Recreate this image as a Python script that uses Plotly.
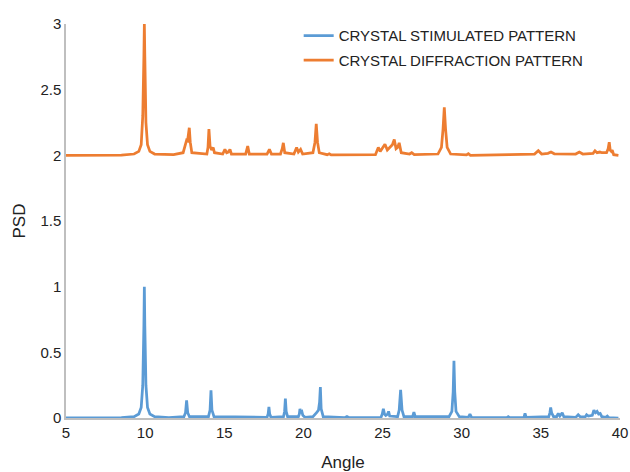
import plotly.graph_objects as go

# Blue series: CRYSTAL STIMULATED PATTERN (angle, PSD)
stim_angle = [5.0, 8.5, 9.3, 9.6, 9.75, 9.85, 9.92, 9.95, 9.98, 10.05, 10.15, 10.3, 10.6, 11.5,
              12.45, 12.55, 12.62, 12.69, 12.8, 14.0, 14.1, 14.16, 14.22, 14.35,
              17.7, 17.77, 17.82, 17.87, 17.95, 18.74, 18.81, 18.86, 18.91, 19.0,
              19.68, 19.74, 19.78, 19.83, 19.9, 19.96, 20.1, 20.6, 20.83, 20.95, 21.02, 21.07, 21.12, 21.25,
              22.6, 22.75, 22.9, 24.9, 24.98, 25.05, 25.12, 25.2, 25.32, 25.38, 25.45,
              25.95, 26.05, 26.14, 26.23, 26.35, 26.9, 26.98, 27.06,
              29.2, 29.38, 29.46, 29.51, 29.56, 29.64, 29.85, 30.42, 30.52, 30.62,
              32.85, 32.94, 33.03, 33.93, 34.0, 34.07, 35.5, 35.57, 35.62, 35.68, 35.8,
              36.0, 36.1, 36.2, 36.35, 36.45, 37.2, 37.36, 37.5, 37.8, 37.89, 38.0,
              38.25, 38.35, 38.45, 38.55, 38.65, 38.75, 38.85, 39.1, 39.2, 39.3, 39.9]
stim_psd = [0.0, 0.002, 0.01, 0.03, 0.08, 0.25, 0.7, 1.0, 0.7, 0.25, 0.08, 0.03, 0.01, 0.003,
            0.01, 0.04, 0.135, 0.04, 0.01, 0.01, 0.06, 0.21, 0.06, 0.01,
            0.005, 0.03, 0.085, 0.03, 0.005, 0.01, 0.05, 0.148, 0.05, 0.01,
            0.01, 0.03, 0.07, 0.045, 0.05, 0.02, 0.005, 0.01, 0.04, 0.06, 0.12, 0.235, 0.07, 0.01,
            0.003, 0.012, 0.003, 0.005, 0.03, 0.07, 0.03, 0.02, 0.03, 0.05, 0.015,
            0.01, 0.06, 0.215, 0.06, 0.01, 0.01, 0.045, 0.01,
            0.01, 0.05, 0.2, 0.435, 0.2, 0.05, 0.01, 0.005, 0.03, 0.005,
            0.003, 0.01, 0.003, 0.005, 0.035, 0.005, 0.01, 0.04, 0.08, 0.04, 0.01,
            0.01, 0.035, 0.015, 0.04, 0.01, 0.005, 0.025, 0.008, 0.008, 0.025, 0.015,
            0.02, 0.06, 0.04, 0.05, 0.03, 0.035, 0.01, 0.005, 0.015, 0.003, 0.0]

# Orange series: CRYSTAL DIFFRACTION PATTERN (angle, PSD)
diff_angle = [5.0, 8.5, 9.3, 9.6, 9.75, 9.85, 9.92, 9.95, 9.98, 10.05, 10.15, 10.3, 10.6, 11.8,
              12.4, 12.55, 12.62, 12.68, 12.74, 12.79, 12.85, 12.95,
              13.9, 13.97, 14.03, 14.1, 14.2, 14.3, 14.38, 14.9, 15.04, 15.15, 15.25, 15.36, 15.45,
              16.35, 16.48, 16.58, 17.7, 17.85, 17.98, 18.55, 18.66, 18.73, 18.82,
              19.4, 19.57, 19.68, 19.82, 19.95, 20.6, 20.73, 20.81, 20.89, 21.0,
              21.5, 21.63, 21.75, 24.55, 24.73, 24.85, 25.15, 25.3, 25.45, 25.62, 25.74, 25.85, 25.95,
              26.05, 26.18, 26.7, 26.84, 27.0, 28.5, 28.72, 28.82, 28.9, 28.98, 29.08, 29.3,
              30.3, 30.42, 30.55, 33.0, 34.0, 34.6, 34.84, 35.05, 35.45, 35.64, 35.85,
              37.2, 37.43, 37.65, 38.3, 38.42, 38.55, 38.73, 38.85, 39.15, 39.25, 39.32, 39.38,
              39.45, 39.51, 39.6, 39.9]
diff_psd = [2.0, 2.002, 2.01, 2.03, 2.08, 2.3, 2.75, 3.0, 2.75, 2.25, 2.08, 2.03, 2.01, 2.005,
            2.02, 2.08, 2.115, 2.11, 2.17, 2.21, 2.1, 2.02,
            2.01, 2.06, 2.2, 2.07, 2.04, 2.06, 2.02, 2.01, 2.045, 2.02, 2.025, 2.045, 2.01,
            2.01, 2.07, 2.01, 2.01, 2.045, 2.01, 2.01, 2.05, 2.095, 2.02,
            2.01, 2.06, 2.025, 2.045, 2.01, 2.02, 2.1, 2.24, 2.1, 2.02,
            2.005, 2.012, 2.003, 2.005, 2.06, 2.03, 2.085, 2.04, 2.06, 2.08, 2.12, 2.05, 2.06,
            2.095, 2.02, 2.01, 2.02, 2.005, 2.01, 2.06, 2.2, 2.365, 2.2, 2.06, 2.01,
            2.003, 2.012, 2.0, 2.005, 2.01, 2.01, 2.035, 2.01, 2.015, 2.025, 2.012,
            2.01, 2.025, 2.01, 2.015, 2.035, 2.02, 2.025, 2.02, 2.02, 2.05, 2.1, 2.04,
            2.03, 2.04, 2.005, 2.0]

x_ticks = [5, 10, 15, 20, 25, 30, 35, 40]
y_ticks = [0, 0.5, 1, 1.5, 2, 2.5, 3]
y_tick_labels = ["0", "0.5", "1", "1.5", "2", "2.5", "3"]

FONT = "Liberation Sans"

fig = go.Figure()
fig.add_trace(go.Scatter(x=stim_angle, y=stim_psd, mode="lines",
                         name="CRYSTAL STIMULATED PATTERN", legendgroup="a",
                         line=dict(color="#5B9BD5", width=2.75)))
fig.add_trace(go.Scatter(x=diff_angle, y=diff_psd, mode="lines",
                         name="CRYSTAL DIFFRACTION PATTERN", legendgroup="b",
                         line=dict(color="#ED7D31", width=2.75)))

fig.update_layout(
    width=630, height=472,
    margin=dict(l=66, r=10, t=24, b=54),
    paper_bgcolor="white", plot_bgcolor="white",
    font=dict(family=FONT, size=14, color="#222"),
    legend=dict(x=0.42, y=1.012, xanchor="left", yanchor="top",
                bgcolor="rgba(0,0,0,0)", font=dict(size=15, color="#222"),
                tracegroupgap=2),
    xaxis=dict(range=[5, 40], tickvals=x_ticks, showgrid=False, zeroline=False,
               showline=True, linecolor="#BFBFBF", linewidth=1.5, ticks="",
               automargin=False,
               title=dict(text="Angle", font=dict(size=17), standoff=16),
               tickfont=dict(size=15)),
    yaxis=dict(range=[0, 3], tickvals=y_ticks, ticktext=y_tick_labels, showgrid=False,
               zeroline=False, showline=True, linecolor="#BFBFBF", linewidth=1.5, ticks="",
               automargin=False,
               title=dict(text="PSD", font=dict(size=17), standoff=10),
               tickfont=dict(size=15)),
    showlegend=True,
)

fig.write_html("out.html", config={"displayModeBar": False},
               post_script="document.body.style.margin='0';")
